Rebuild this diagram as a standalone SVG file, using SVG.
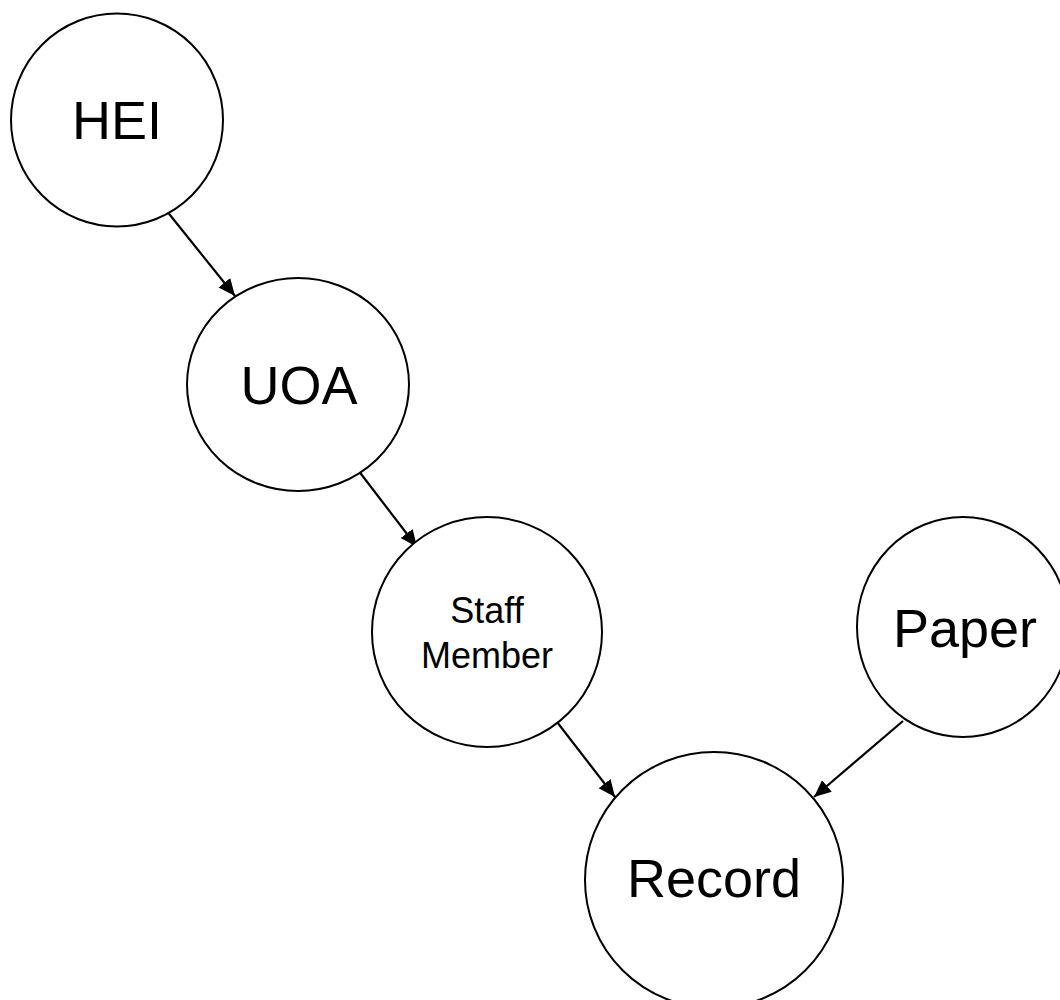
<svg xmlns="http://www.w3.org/2000/svg" width="1060" height="1000" viewBox="0 0 1060 1000">
<style>
.node{fill:#fff;stroke:#000;stroke-width:2}
.lbl{font-family:"Liberation Sans",Arial,sans-serif;font-size:54px;fill:#000;text-anchor:middle}
.sm{font-size:36px}
.edge{stroke:#000;stroke-width:2.2;fill:none;marker-end:url(#arr)}
</style>
<defs>
<marker id="arr" markerUnits="userSpaceOnUse" markerWidth="18" markerHeight="16" refX="17" refY="7.5" orient="auto">
<path d="M0,0 L17,7.5 L0,15 z" fill="#000"/>
</marker>
</defs>
<rect width="1060" height="1000" fill="#fff"/>
<g id="connectors">
<line class="edge" x1="166" y1="210" x2="235" y2="296"/>
<line class="edge" x1="358" y1="470" x2="417" y2="547"/>
<line class="edge" x1="557" y1="722" x2="615" y2="797"/>
<line class="edge" x1="903" y1="721" x2="814" y2="797"/>
</g>
<g id="node-hei">
<ellipse class="node" cx="117" cy="120" rx="106" ry="106.5"/>
<text class="lbl" x="117" y="139">HEI</text>
</g>
<g id="node-uoa">
<ellipse class="node" cx="298" cy="384.5" rx="111" ry="106.5"/>
<text class="lbl" x="299" y="404">UOA</text>
</g>
<g id="node-staff">
<ellipse class="node" cx="487" cy="632" rx="115" ry="115"/>
<text class="lbl sm" x="487" y="623">Staff</text>
<text class="lbl sm" x="487" y="668">Member</text>
</g>
<g id="node-paper">
<ellipse class="node" cx="963" cy="627" rx="106" ry="110"/>
<text class="lbl" x="965" y="647">Paper</text>
</g>
<g id="node-record">
<ellipse class="node" cx="714" cy="880" rx="129" ry="128"/>
<text class="lbl" x="714" y="897">Record</text>
</g>
</svg>
